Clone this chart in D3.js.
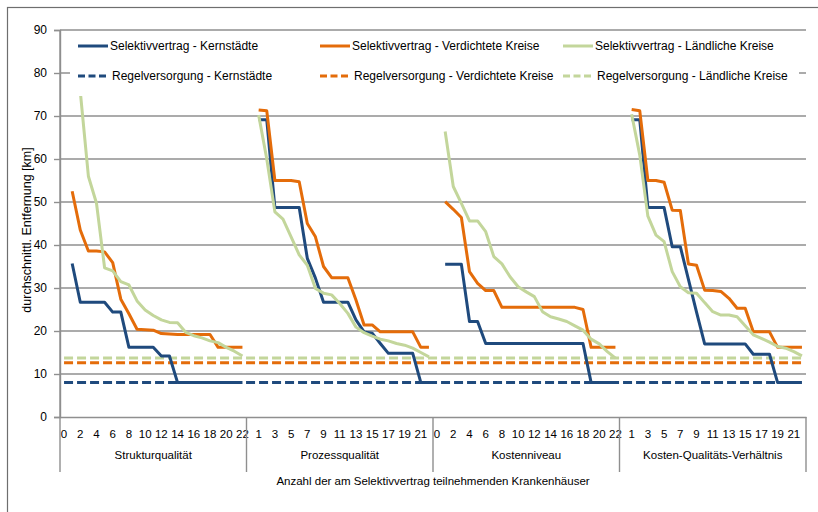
<!DOCTYPE html>
<html>
<head>
<meta charset="utf-8">
<script src="https://cdn.jsdelivr.net/npm/d3@7"></script>
<style>
  body { margin: 0; background: #fff; }
  text { font-family: "Liberation Sans", Arial, sans-serif; fill: #000; }
</style>
</head>
<body>
<div id="chart"></div>
<script>
// Size
const WIDTH = 818;
const HEIGHT = 512;

// Panels (value index 0..22 inside each panel)
const panels = ["Strukturqualität", "Prozessqualität", "Kostenniveau", "Kosten-Qualitäts-Verhältnis"];
const perPanel = d3.range(0, 23);

// Selektivvertrag - Kernstädte
const selKern = [
  [null, 35.7, 26.7, 26.7, 26.7, 26.7, 24.4, 24.4, 16.2, 16.2, 16.2, 16.2, 14.2, 14.2, 8.0, 8.0, 8.0, 8.0, 8.0, 8.0, 8.0, 8.0, 8.0],
  [null, 69.1, 69.1, 48.7, 48.7, 48.7, 48.7, 36.9, 32.3, 26.7, 26.7, 26.7, 26.7, 22.6, 19.8, 19.5, 17.1, 14.8, 14.8, 14.8, 14.8, 8.0, 8.0],
  [null, 35.5, 35.5, 35.5, 22.2, 22.2, 17.1, 17.1, 17.1, 17.1, 17.1, 17.1, 17.1, 17.1, 17.1, 17.1, 17.1, 17.1, 17.1, 8.0, 8.0, 8.0, 8.0],
  [null, 69.1, 69.1, 48.7, 48.7, 48.7, 39.6, 39.6, 32.0, 24.4, 17.0, 17.0, 17.0, 17.0, 17.0, 17.0, 14.6, 14.6, 14.6, 8.0, 8.0, 8.0, 8.0]
];
// Selektivvertrag - Verdichtete Kreise
const selVerd = [
  [null, 52.5, 43.5, 38.6, 38.6, 38.4, 35.9, 27.4, 24.0, 20.4, 20.3, 20.2, 19.4, 19.3, 19.2, 19.2, 19.2, 19.2, 19.2, 16.2, 16.2, 16.2, 16.2],
  [null, 71.4, 71.2, 55.0, 55.0, 55.0, 54.7, 45.0, 41.9, 35.0, 32.4, 32.4, 32.4, 27.2, 21.4, 21.4, 19.8, 19.8, 19.8, 19.8, 19.8, 16.2, 16.2],
  [null, 50.1, 48.3, 46.4, 33.8, 31.1, 29.4, 29.4, 25.5, 25.5, 25.5, 25.5, 25.5, 25.5, 25.5, 25.5, 25.5, 25.5, 25.0, 16.2, 16.2, 16.2, 16.2],
  [null, 71.5, 71.2, 55.0, 55.0, 54.6, 48.1, 48.0, 35.6, 35.3, 29.5, 29.4, 29.2, 27.6, 25.3, 25.3, 19.8, 19.8, 19.8, 16.2, 16.2, 16.2, 16.2]
];
// Selektivvertrag - Ländliche Kreise
const selLand = [
  [null, null, 75.7, 56.0, 49.7, 34.7, 34.0, 31.5, 30.7, 27.0, 24.9, 23.6, 22.6, 22.0, 21.9, 19.7, 18.9, 18.4, 17.7, 17.3, 16.2, 15.3, 14.2],
  [null, 70.2, 60.0, 47.7, 46.0, 41.9, 37.7, 35.3, 29.9, 28.8, 28.4, 26.4, 24.1, 20.9, 19.6, 18.8, 18.1, 17.7, 17.1, 16.7, 16.0, 15.0, 14.0],
  [null, 66.4, 53.6, 49.7, 45.6, 45.6, 43.1, 37.3, 35.6, 32.6, 30.3, 29.1, 28.0, 24.5, 23.3, 22.8, 22.2, 21.2, 20.2, 18.1, 17.0, 15.2, 13.7],
  [null, 70.4, 60.9, 46.7, 42.3, 40.8, 33.8, 30.3, 28.9, 28.8, 26.6, 24.5, 23.7, 23.7, 23.3, 21.2, 19.1, 18.3, 17.4, 16.4, 16.0, 15.2, 14.2]
];
// Regelversorgung (one level per panel)
const regKern = [8.0, 8.0, 8.0, 8.0];
const regVerd = [12.6, 12.6, 12.6, 12.6];
const regLand = [13.7, 13.7, 13.7, 13.7];

const yTicks = [0, 10, 20, 30, 40, 50, 60, 70, 80, 90];

// Colors
const BLUE = "#1f4a7d";
const ORANGE = "#e46c0a";
const GREEN = "#c3d69b";

const series = [
  { name: "Regelversorgung - Kernstädte", color: BLUE, dash: true, panelVals: regKern.map((v) => perPanel.map(() => v)) },
  { name: "Regelversorgung - Verdichtete Kreise", color: ORANGE, dash: true, panelVals: regVerd.map((v) => perPanel.map(() => v)) },
  { name: "Regelversorgung - Ländliche Kreise", color: GREEN, dash: true, panelVals: regLand.map((v) => perPanel.map(() => v)) },
  { name: "Selektivvertrag - Kernstädte", color: BLUE, dash: false, panelVals: selKern },
  { name: "Selektivvertrag - Verdichtete Kreise", color: ORANGE, dash: false, panelVals: selVerd },
  { name: "Selektivvertrag - Ländliche Kreise", color: GREEN, dash: false, panelVals: selLand }
];

// Flatten into one category axis of 4 x 23 slots
const N = panels.length * perPanel.length;
const slots = d3.range(N);
series.forEach((s) => { s.values = s.panelVals.flat(); });

// Plot area
const LEFT = 60, RIGHT = 806, TOP = 30, BOTTOM = 417;

const svg = d3.select("#chart").append("svg")
  .attr("width", WIDTH)
  .attr("height", HEIGHT);

// Outer frame
svg.append("rect")
  .attr("x", 7.5).attr("y", 7.5)
  .attr("width", 840).attr("height", 540)
  .attr("fill", "none")
  .attr("stroke", "#6e6e6e")
  .attr("stroke-width", 1.2);

const x = d3.scaleBand().domain(slots).range([LEFT, RIGHT]).padding(0);
const y = d3.scaleLinear().domain([0, 90]).range([BOTTOM, TOP]);
const cx = (i) => x(i) + x.bandwidth() / 2;

// Gridlines
svg.append("g")
  .selectAll("line")
  .data(yTicks.filter((t) => t > 0))
  .enter()
  .append("line")
  .attr("x1", LEFT).attr("x2", RIGHT)
  .attr("y1", (d) => y(d)).attr("y2", (d) => y(d))
  .attr("stroke", "#8f8f8f")
  .attr("stroke-width", 1.4);

// Y axis
const yAxis = svg.append("g")
  .attr("transform", "translate(" + LEFT + ",0)")
  .call(d3.axisLeft(y).tickValues(yTicks).tickSize(6).tickPadding(7));
yAxis.selectAll("line, path").attr("stroke", "#8f8f8f").attr("stroke-width", 1.4);
yAxis.selectAll("text").style("font-size", "12px").attr("fill", "#000");

svg.append("text")
  .attr("transform", "translate(31," + 230 + ") rotate(-90)")
  .attr("text-anchor", "middle")
  .style("font-size", "12.5px")
  .text("durchschnittl. Entfernung [km]");

// X axis (category slots, every other one labelled)
const xAxis = svg.append("g")
  .attr("transform", "translate(0," + BOTTOM + ")")
  .call(
    d3.axisBottom(x)
      .tickValues(slots.filter((i) => i % 2 === 0))
      .tickFormat((i) => i % perPanel.length)
      .tickSize(0)
      .tickPadding(13)
  );
xAxis.select(".domain").attr("stroke", "#8f8f8f").attr("stroke-width", 1.4);
xAxis.selectAll("text").style("font-size", "11.5px").attr("fill", "#000");

// Panel separators
const panelEdges = d3.range(panels.length + 1).map((p) => (p === panels.length ? RIGHT : x(p * perPanel.length)));
svg.append("g")
  .selectAll("line")
  .data(panelEdges)
  .enter()
  .append("line")
  .attr("x1", (d) => d).attr("x2", (d) => d)
  .attr("y1", (d, i) => (i === 0 ? TOP : BOTTOM))
  .attr("y2", 472)
  .attr("stroke", "#8f8f8f")
  .attr("stroke-width", 1.4);

// Panel names
svg.append("g")
  .selectAll("text")
  .data(panels)
  .enter()
  .append("text")
  .attr("x", (d, i) => (panelEdges[i] + panelEdges[i + 1]) / 2)
  .attr("y", 459)
  .attr("text-anchor", "middle")
  .style("font-size", "11.5px")
  .text((d) => d);

svg.append("text")
  .attr("x", 433)
  .attr("y", 485)
  .attr("text-anchor", "middle")
  .style("font-size", "11.5px")
  .text("Anzahl der am Selektivvertrag teilnehmenden Krankenhäuser");

// Lines
const line = d3.line()
  .defined((d) => d != null)
  .x((d, i) => cx(i))
  .y((d) => y(d));

svg.append("g")
  .selectAll("path")
  .data(series)
  .enter()
  .append("path")
  .attr("d", (s) => line(s.values))
  .attr("fill", "none")
  .attr("stroke", (s) => s.color)
  .attr("stroke-width", 3)
  .attr("stroke-linejoin", "round")
  .attr("stroke-dasharray", (s) => (s.dash ? "9,4" : null));

// Legend
const legend = svg.append("g").attr("id", "legend");
legend.append("rect")
  .attr("x", 70).attr("y", 34)
  .attr("width", 729).attr("height", 62)
  .attr("fill", "#fff");

const legendOrder = [3, 4, 5, 0, 1, 2];
const colX = [78, 320, 563];
const rowY = [46, 76];
const items = legend.selectAll("g.item")
  .data(legendOrder.map((k) => series[k]))
  .enter()
  .append("g")
  .attr("class", "item")
  .attr("transform", (d, i) => "translate(" + colX[i % 3] + "," + rowY[Math.floor(i / 3)] + ")");

items.append("line")
  .attr("x1", 0).attr("x2", 30)
  .attr("stroke", (d) => d.color)
  .attr("stroke-width", 3)
  .attr("stroke-dasharray", (d) => (d.dash ? "7,3.5" : null));

items.append("text")
  .attr("x", (d) => (d.dash ? 34 : 32))
  .attr("y", 4)
  .style("font-size", "12px")
  .text((d) => d.name);
</script>
</body>
</html>
